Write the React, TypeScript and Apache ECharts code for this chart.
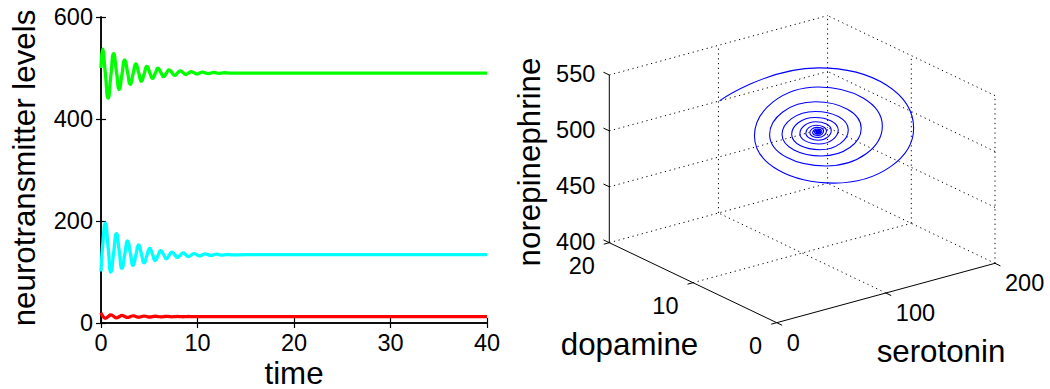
import React, { useEffect, useRef } from "react";
import * as echarts from "echarts";

// ---- data (shared by both panels) ----
const time = [
  0, 0.16, 0.45, 0.74, 1.02, 1.31, 1.6, 1.89, 2.17, 2.46, 2.75, 3.04, 3.32,
  3.61, 3.9, 4.19, 4.47, 4.76, 5.05, 5.34, 5.62, 5.91, 6.2, 6.49, 6.77, 7.06,
  7.35, 7.64, 7.92, 8.21, 8.5, 8.79, 9.07, 9.36, 9.65, 9.94, 10.22, 10.51,
  10.8, 11.09, 11.37, 11.66, 11.95, 12.24, 12.52, 12.81, 13.1, 13.39, 13.67,
  15, 20, 30, 40,
];
const norepinephrine = [
  500, 537, 489, 441, 484.5, 528, 493, 458, 487, 516, 492, 468, 488, 508, 491,
  474, 488.5, 503, 491.3, 479.5, 489.5, 499.5, 491.3, 483, 489.8, 496.5, 491,
  485.5, 490, 494.5, 490.9, 487.2, 490.1, 493, 490.7, 488.3, 490.2, 492, 490.5,
  489, 490.1, 491.2, 490.4, 489.5, 490.1, 490.7, 490.3, 489.8, 490, 490, 490,
  490, 490,
];
const serotonin = [
  101, 148.5, 196, 148, 100, 137.5, 175, 141, 107, 134, 161, 137, 113, 133, 153,
  135.5, 118, 132.3, 146.5, 134.5, 122.5, 132.3, 142, 134, 126, 132.5, 139,
  133.8, 128.5, 132.9, 137.3, 133.8, 130.3, 133.3, 136.2, 133.9, 131.5, 133.5,
  135.4, 133.9, 132.4, 133.7, 134.9, 134, 133, 133.8, 134.5, 134, 133.4, 133.9,
  134, 134, 134,
];
const dopamine = [
  20, 14.4, 9.2, 12.45, 15.7, 12.95, 10.2, 12.5, 14.8, 12.85, 10.9, 12.5, 14.1,
  12.75, 11.4, 12.5, 13.6, 12.7, 11.75, 12.48, 13.2, 12.6, 12.0, 12.48, 12.95,
  12.57, 12.18, 12.49, 12.8, 12.55, 12.3, 12.5, 12.7, 12.53, 12.37, 12.5, 12.63,
  12.52, 12.42, 12.5, 12.58, 12.51, 12.46, 12.5, 12.55, 12.51, 12.48, 12.5,
  12.53, 12.5, 12.5, 12.5, 12.5,
];

const serotoninTicks = [0, 100, 200];
const dopamineTicks = [0, 10, 20];
const norepinephrineTicks = [400, 450, 500, 550];

const FONT = '"Liberation Sans", Arial, Helvetica, sans-serif';
const TICK_FS = 23.5;
const TITLE_FS = 31.3;

// ---- projection of the 3-D box (MATLAB-like default view) onto the page ----
const ORIGIN = [776.7, 322.7]; // page position of (s0, d0, n0)
const S_VEC = [218.3, -59.4]; // full serotonin span
const D_VEC = [-167.4, -80.0]; // full dopamine span
const N_VEC = [0, -167.7]; // full norepinephrine span
const s0 = serotoninTicks[0], s1 = serotoninTicks[serotoninTicks.length - 1];
const d0 = dopamineTicks[0], d1 = dopamineTicks[dopamineTicks.length - 1];
const n0 = norepinephrineTicks[0], n1 = norepinephrineTicks[norepinephrineTicks.length - 1];

function proj(s: number, d: number, n: number): [number, number] {
  const fs = (s - s0) / (s1 - s0);
  const fd = (d - d0) / (d1 - d0);
  const fn = (n - n0) / (n1 - n0);
  return [
    ORIGIN[0] + fs * S_VEC[0] + fd * D_VEC[0] + fn * N_VEC[0],
    ORIGIN[1] + fs * S_VEC[1] + fd * D_VEC[1] + fn * N_VEC[1],
  ];
}
function seg(a: [number, number, number], b: [number, number, number]) {
  const p = proj(a[0], a[1], a[2]);
  const q = proj(b[0], b[1], b[2]);
  return [p[0], p[1], q[0], q[1]];
}

export default function App() {
  const ref = useRef<HTMLDivElement>(null);

  useEffect(() => {
    document.body.style.margin = "0";
    if (!ref.current) return;
    const chart = echarts.init(ref.current, undefined, { renderer: "svg" });

    // dotted grid on the three back planes
    const gridSegs: number[][] = [];
    serotoninTicks.slice(1).forEach((s) => {
      gridSegs.push(seg([s, d0, n0], [s, d1, n0])); // floor
      gridSegs.push(seg([s, d1, n0], [s, d1, n1])); // back-left wall
    });
    dopamineTicks.slice(1).forEach((d) => {
      gridSegs.push(seg([s0, d, n0], [s1, d, n0])); // floor
    });
    dopamineTicks.slice(0, -1).forEach((d) => {
      gridSegs.push(seg([s1, d, n0], [s1, d, n1])); // back-right wall
    });
    norepinephrineTicks.slice(1).forEach((n) => {
      gridSegs.push(seg([s0, d1, n], [s1, d1, n]));
      gridSegs.push(seg([s1, d0, n], [s1, d1, n]));
    });

    // solid axes and tick marks
    const axisSegs: number[][] = [
      seg([s0, d1, n0], [s0, d1, n1]),
      seg([s0, d0, n0], [s0, d1, n0]),
      seg([s0, d0, n0], [s1, d0, n0]),
    ];
    norepinephrineTicks.forEach((n) => axisSegs.push(seg([s0, d1, n], [s0, d1 + 0.7, n])));
    dopamineTicks.forEach((d) => axisSegs.push(seg([s0, d, n0], [s0 - 5, d, n0])));
    serotoninTicks.forEach((s) => axisSegs.push(seg([s, d0, n0], [s, d0 - 0.65, n0])));

    const spiral = time.map((_, i) => proj(serotonin[i], dopamine[i], norepinephrine[i]));

    const segRender = (stroke: string, dash: number[] | null, width: number) =>
      (params: any, api: any) => {
        const p = api.coord([api.value(0), api.value(1)]);
        const q = api.coord([api.value(2), api.value(3)]);
        return {
          type: "line",
          shape: { x1: p[0], y1: p[1], x2: q[0], y2: q[1] },
          style: { stroke, lineWidth: width, lineDash: dash || undefined, fill: null },
          silent: true,
        };
      };

    const txt = (text: string, x: number, y: number, fs: number, align: string, valign: string, rot = 0) => ({
      type: "text",
      x,
      y,
      rotation: rot,
      silent: true,
      style: {
        text,
        fill: "#000",
        fontSize: fs,
        fontFamily: FONT,
        align,
        verticalAlign: valign,
        textAlign: align,
        textVerticalAlign: valign,
      },
    });

    const graphics: any[] = [
      txt("neurotransmitter levels", 24, 168, TITLE_FS, "center", "middle", Math.PI / 2),
      txt("time", 294, 373, TITLE_FS, "center", "middle"),
      txt("norepinephrine", 529, 162, TITLE_FS, "center", "middle", Math.PI / 2),
      txt("dopamine", 629.5, 344, TITLE_FS, "center", "middle"),
      txt("serotonin", 941, 351, TITLE_FS, "center", "middle"),
    ];
    norepinephrineTicks.forEach((n) => {
      const p = proj(s0, d1, n);
      graphics.push(txt(String(n), p[0] - 14, p[1] - 1, TICK_FS, "right", "middle"));
    });
    dopamineTicks.forEach((d) => {
      const p = proj(s0, d, n0);
      graphics.push(txt(String(d), p[0] - 14.5, p[1] + 23, TICK_FS, "right", "middle"));
    });
    serotoninTicks.forEach((s) => {
      const p = proj(s, d0, n0);
      graphics.push(txt(String(s), p[0] + 10, p[1] + 20, TICK_FS, "left", "middle"));
    });

    const axisStyle = { lineStyle: { color: "#000", width: 1.5 } };
    const tickStyle = { show: true, inside: true, length: 5, lineStyle: { color: "#000", width: 1.2 } };
    const labelStyle = { color: "#000", fontSize: TICK_FS, fontFamily: FONT, margin: 8 };

    const lineSeries = (name: string, vals: number[], color: string) => ({
      name,
      type: "line",
      xAxisIndex: 0,
      yAxisIndex: 0,
      data: time.map((t, i) => [t, vals[i]]),
      smooth: 0.55,
      symbol: "none",
      lineStyle: { color, width: 3.3 },
      silent: true,
    });

    chart.setOption({
      animation: false,
      backgroundColor: "#fff",
      grid: [
        { left: 101, top: 17, width: 386, height: 306 },
        { left: 0, top: 0, width: 1050, height: 389 },
      ],
      xAxis: [
        {
          gridIndex: 0, type: "value", min: 0, max: 40, interval: 10,
          axisLine: { show: true, ...axisStyle }, axisTick: tickStyle, axisLabel: labelStyle,
          splitLine: { show: false },
        },
        {
          gridIndex: 0, type: "value", min: 0, max: 40, interval: 10, position: "top",
          axisLine: { show: true, ...axisStyle }, axisTick: tickStyle, axisLabel: { show: false },
          splitLine: { show: false },
        },
        { gridIndex: 1, type: "value", min: 0, max: 1050, show: false },
      ],
      yAxis: [
        {
          gridIndex: 0, type: "value", min: 0, max: 600, interval: 200,
          axisLine: { show: true, ...axisStyle }, axisTick: tickStyle, axisLabel: labelStyle,
          splitLine: { show: false },
        },
        {
          gridIndex: 0, type: "value", min: 0, max: 600, interval: 200, position: "right",
          axisLine: { show: true, ...axisStyle }, axisTick: tickStyle, axisLabel: { show: false },
          splitLine: { show: false },
        },
        { gridIndex: 1, type: "value", min: 0, max: 389, inverse: true, show: false },
      ],
      series: [
        lineSeries("dopamine", dopamine, "#ff0000"),
        lineSeries("serotonin", serotonin, "#00ffff"),
        lineSeries("norepinephrine", norepinephrine, "#00ff00"),
        {
          type: "custom", xAxisIndex: 2, yAxisIndex: 2, data: gridSegs,
          encode: { x: [0, 2], y: [1, 3] }, renderItem: segRender("#000", [1.2, 3.6], 1), silent: true, clip: false,
        },
        {
          type: "custom", xAxisIndex: 2, yAxisIndex: 2, data: axisSegs,
          encode: { x: [0, 2], y: [1, 3] }, renderItem: segRender("#000", null, 1), silent: true, clip: false,
        },
        {
          type: "line", xAxisIndex: 2, yAxisIndex: 2, data: spiral, smooth: 0.55,
          symbol: "none", lineStyle: { color: "#0000ff", width: 1.1 }, silent: true,
        },
      ],
      graphic: graphics,
    });

    return () => chart.dispose();
  }, []);

  return <div ref={ref} style={{ width: 1050, height: 389 }} />;
}
